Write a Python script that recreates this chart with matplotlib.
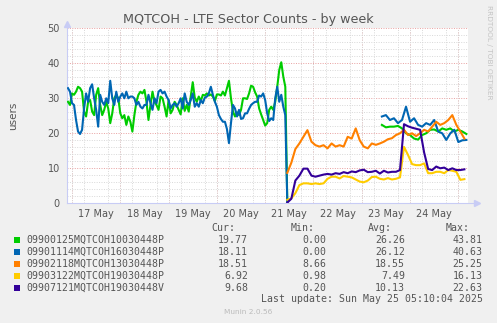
import numpy as np
import pandas as pd
import matplotlib
matplotlib.use('Agg')
import matplotlib.pyplot as plt
import matplotlib.dates as mdates
from matplotlib.patches import Rectangle

# sectors 1 and 2: hourly until the outage on 21 May, 2-hourly after recovery
t_early = pd.date_range('2025-05-16 22:00', periods=110, freq='h')
t_late = pd.date_range('2025-05-23 10:00', periods=22, freq='2h')
# sectors 3-5: 2-hourly from 21 May
t_new = pd.date_range('2025-05-21 11:00', periods=45, freq='2h')

sector_1_early = [
    29.0, 28.1, 31.4, 31.0, 31.9, 33.3, 32.9, 31.9, 26.2, 24.8,
    29.0, 29.5, 26.2, 25.2, 31.0, 32.9, 28.1, 25.2, 26.7, 29.0,
    27.1, 22.9, 25.7, 30.0, 31.0, 30.0, 25.7, 24.3, 25.2, 22.4,
    24.8, 23.3, 20.5, 25.2, 29.0, 31.0, 31.9, 31.4, 32.4, 29.0,
    23.8, 28.1, 31.9, 29.0, 28.1, 26.7, 30.5, 30.0, 27.6, 24.8,
    29.5, 25.7, 26.7, 29.0, 28.1, 26.7, 25.4, 30.0, 26.4, 28.1,
    26.2, 30.5, 34.6, 30.2, 29.0, 30.5, 29.2, 31.0, 30.8, 31.4,
    30.8, 31.1, 30.5, 29.2, 31.1, 31.1, 30.8, 31.9, 30.8, 32.9,
    35.0, 30.0, 26.2, 24.8, 26.0, 25.2, 26.7, 30.0, 30.0, 29.8,
    31.4, 33.6, 33.3, 31.7, 30.5, 27.1, 25.4, 23.8, 22.2, 22.9,
    26.7, 27.6, 26.7, 29.0, 33.3, 38.1, 40.3, 36.2, 33.3, 0.0]
sector_1_late = [
    22.4, 21.7, 21.9, 21.9, 22.1, 21.4, 20.0, 19.5, 18.5, 18.2,
    19.5, 20.0, 21.0, 21.1, 20.5, 21.4, 21.0, 21.4, 20.5, 21.0,
    20.5, 19.8]

sector_2_early = [
    32.9, 31.9, 28.6, 28.1, 23.8, 20.5, 19.8, 21.0, 27.1, 31.4,
    29.0, 32.9, 34.0, 30.0, 26.7, 21.9, 31.0, 29.0, 28.1, 30.0,
    28.6, 35.0, 30.0, 28.1, 31.9, 29.0, 30.5, 31.4, 30.0, 31.9,
    30.0, 30.5, 30.5, 30.0, 28.1, 29.0, 27.6, 27.1, 28.1, 28.1,
    31.0, 28.6, 26.7, 30.0, 28.6, 31.9, 32.4, 31.4, 31.9, 30.5,
    29.5, 27.1, 28.1, 28.6, 27.6, 28.6, 30.0, 27.1, 31.4, 29.0,
    28.1, 29.5, 31.4, 27.6, 28.6, 27.6, 29.5, 28.6, 30.2, 30.5,
    31.4, 33.3, 31.0, 29.0, 27.6, 25.2, 24.1, 23.3, 23.3, 21.2,
    17.2, 22.9, 28.1, 27.1, 24.8, 26.7, 24.1, 24.3, 25.7, 25.7,
    27.0, 28.1, 28.6, 29.0, 29.0, 30.8, 30.5, 31.4, 29.5, 25.7,
    23.5, 24.3, 23.8, 30.0, 33.3, 29.0, 31.0, 27.6, 25.2, 0.0]
sector_2_late = [
    24.8, 25.2, 23.8, 24.3, 22.9, 23.8, 27.6, 23.3, 24.3, 22.4,
    21.9, 22.9, 22.4, 23.8, 20.5, 20.0, 18.1, 20.0, 21.0, 17.5,
    18.0, 18.1]

sector_3 = [
    8.7, 11.6, 15.5, 17.1, 19.0, 20.9, 17.6, 16.6, 16.2, 16.6,
    15.7, 17.1, 16.2, 16.6, 16.2, 19.0, 18.5, 21.4, 18.0, 16.2,
    15.7, 17.1, 16.7, 17.1, 17.6, 18.3, 18.6, 19.5, 20.0, 21.0,
    19.5, 20.0, 19.2, 20.0, 21.0, 20.5, 21.9, 23.3, 22.4, 22.9,
    23.8, 25.2, 22.4, 20.5, 18.5]

sector_4 = [
    1.0, 1.4, 2.9, 5.2, 5.7, 5.7, 5.5, 5.7, 5.5, 5.7,
    7.0, 7.6, 7.6, 7.1, 7.8, 7.6, 7.4, 6.8, 6.2, 6.0,
    6.5, 7.5, 7.6, 7.0, 6.8, 7.2, 6.8, 7.0, 7.4, 16.1,
    13.8, 11.2, 10.9, 10.9, 11.4, 8.6, 8.6, 9.0, 9.0, 8.6,
    9.5, 9.3, 9.0, 6.7, 6.9]

sector_5 = [
    0.2, 1.3, 6.5, 7.9, 9.9, 9.9, 7.9, 7.6, 7.9, 8.2,
    8.4, 8.2, 8.6, 8.4, 8.9, 8.6, 9.1, 8.9, 9.4, 9.6,
    8.9, 9.0, 9.3, 8.5, 9.3, 8.8, 9.0, 9.0, 9.5, 22.6,
    22.0, 21.6, 21.3, 21.0, 14.5, 9.8, 9.5, 10.5, 10.0, 10.2,
    9.5, 10.0, 9.5, 9.5, 9.7]

names = ['09900125MQTCOH10030448P', '09901114MQTCOH16030448P',
         '09902118MQTCOH13030448P', '09903122MQTCOH19030448P',
         '09907121MQTCOH19030448V']
colors = ['#00CC00', '#0066B3', '#FF8000', '#FFCC00', '#330099']
cur = [19.77, 18.11, 18.51, 6.92, 9.68]
mins = [0.00, 0.00, 8.66, 0.98, 0.20]
avgs = [26.26, 26.12, 18.55, 7.49, 10.13]
maxs = [43.81, 40.63, 25.25, 16.13, 22.63]

W, H = 497, 323


def fx(x):
    return x / W


def fy(y):
    return 1 - y / H


fig = plt.figure(figsize=(W / 100, H / 100), dpi=100, facecolor='#F0F0F0')
ax = fig.add_axes([fx(66.7), fy(203.3), fx(468 - 66.7), (203.3 - 28.3) / H])
ax.set_facecolor('white')

line_kw = dict(lw=1.5, solid_joinstyle='round', zorder=3)
ax.plot(t_early, sector_1_early, color=colors[0], **line_kw)
ax.plot(t_late, sector_1_late, color=colors[0], **line_kw)
ax.plot(t_early, sector_2_early, color=colors[1], **line_kw)
ax.plot(t_late, sector_2_late, color=colors[1], **line_kw)
ax.plot(t_new, sector_3, color=colors[2], **line_kw)
ax.plot(t_new, sector_4, color=colors[3], **line_kw)
ax.plot(t_new, sector_5, color=colors[4], **line_kw)

x0 = pd.Timestamp('2025-05-17') - pd.Timedelta(days=0.11)
x1 = pd.Timestamp('2025-05-17') + pd.Timedelta(days=8.2)
ax.set_xlim(x0, x1)
ax.set_ylim(0, 50)

# grid: grey every 6h / 2 users, red at midnight / every 10 users
dot = (0, (1, 1.5))
ax.xaxis.set_major_locator(mdates.HourLocator(byhour=[12]))
ax.xaxis.set_major_formatter(mdates.DateFormatter('%d %b'))
ax.xaxis.set_minor_locator(mdates.HourLocator(byhour=[0, 6, 12, 18]))
ax.set_yticks(np.arange(0, 51, 10))
ax.set_yticks(np.arange(0, 51, 2), minor=True)
ax.grid(which='minor', color='#D8D8D8', ls=dot, lw=0.7)
ax.grid(which='major', visible=False)
for d in pd.date_range('2025-05-17', '2025-05-25', freq='D'):
    ax.axvline(d, color='#E8A0A0', ls=dot, lw=0.7, zorder=1)
for v in range(10, 51, 10):
    ax.axhline(v, color='#E8A0A0', ls=dot, lw=0.7, zorder=1)

ax.tick_params(which='both', length=0, labelsize=7, colors='#555555')
ax.tick_params(axis='x', pad=4)
ax.tick_params(axis='y', pad=5)

for s in ['top', 'right', 'bottom']:
    ax.spines[s].set_visible(False)
ax.spines['left'].set_color('#C8CCF5')
ax.spines['left'].set_linewidth(0.8)
ax.plot([0, 1.015], [0, 0], transform=ax.transAxes, color='#C8CCF5',
        lw=0.8, clip_on=False, zorder=4)
ax.plot(0, 1.025, marker='^', ms=4, color='#C8CCF5', transform=ax.transAxes,
        clip_on=False)
ax.plot(1.022, 0, marker='>', ms=4, color='#C8CCF5', transform=ax.transAxes,
        clip_on=False)

ax.set_ylabel('users', fontsize=7.5, color='#555555', labelpad=21)

fig.text(fx(248.5), fy(19.5), 'MQTCOH - LTE Sector Counts - by week',
         ha='center', va='center', fontsize=9.2, color='#555555')
fig.text(fx(489), fy(5), 'RRDTOOL / TOBI OETIKER', rotation=270,
         ha='center', va='top', fontsize=5.3, color='#C4C4C4')

# legend table
mono = 'DejaVu Sans Mono'
for label, xr in zip(['Cur:', 'Min:', 'Avg:', 'Max:'], [235, 315, 391.7, 470]):
    fig.text(fx(xr), fy(228), label, ha='right', va='center',
             family=mono, fontsize=7.1, color='#555555')

for k in range(len(names)):
    y = 240 + 12 * k
    fig.patches.append(Rectangle((fx(14), fy(y + 3)), fx(6), 6 / H,
                                 transform=fig.transFigure,
                                 facecolor=colors[k], edgecolor='none'))
    fig.text(fx(26.7), fy(y), names[k], ha='left', va='center',
             family=mono, fontsize=7.1, color='#555555')
    for val, xr in zip([cur[k], mins[k], avgs[k], maxs[k]],
                       [248, 326.7, 405, 482.7]):
        fig.text(fx(xr), fy(y), '%.2f' % val, ha='right', va='center',
                 family=mono, fontsize=7.1, color='#555555')

fig.text(fx(482.7), fy(299), 'Last update: Sun May 25 05:10:04 2025',
         ha='right', va='center', family=mono, fontsize=7.1, color='#555555')
fig.text(fx(248), fy(312.5), 'Munin 2.0.56', ha='center', va='center',
         fontsize=5.3, color='#BBBBBB')

fig.savefig('out.png', dpi=100, facecolor=fig.get_facecolor())
